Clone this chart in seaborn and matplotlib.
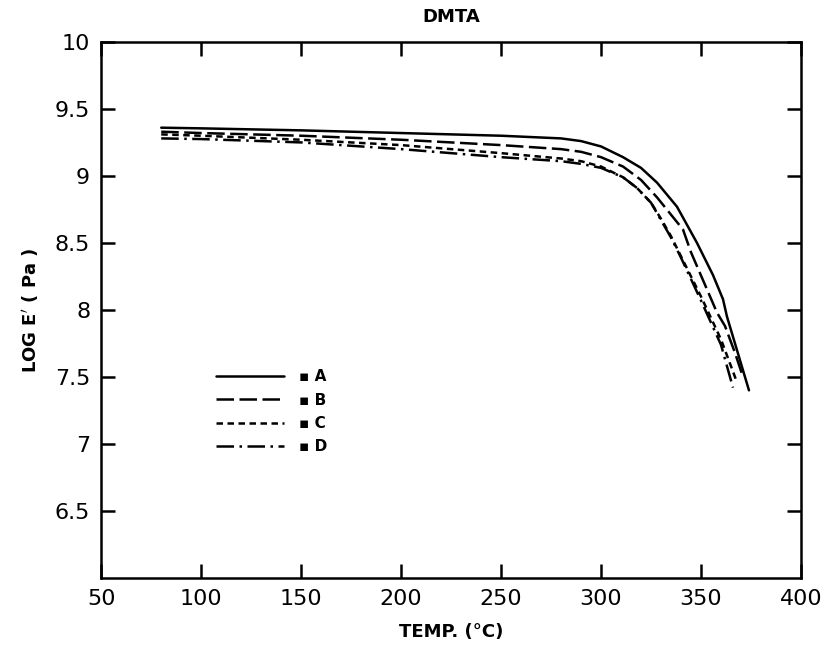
import numpy as np
import pandas as pd
import matplotlib
matplotlib.use("Agg")
import matplotlib.pyplot as plt
import seaborn as sns

# =============================
# DATA
# =============================
temp_A = [80, 100, 150, 200, 250, 280, 290, 300, 311, 320, 328, 338, 348, 356, 361, 363, 368, 374]
logE_A = [9.36, 9.355, 9.34, 9.32, 9.30, 9.28, 9.26, 9.22, 9.14, 9.06, 8.95, 8.77, 8.50, 8.26, 8.08, 7.95, 7.70, 7.40]

temp_B = [80, 100, 150, 200, 250, 280, 290, 300, 311, 320, 328, 341, 345, 358, 362, 367, 371]
logE_B = [9.33, 9.32, 9.30, 9.27, 9.23, 9.20, 9.18, 9.14, 9.07, 8.97, 8.84, 8.60, 8.43, 7.98, 7.88, 7.68, 7.50]

temp_C = [80, 100, 150, 200, 250, 280, 290, 300, 311, 318, 325, 330, 335, 340, 350, 360, 368]
logE_C = [9.31, 9.30, 9.27, 9.23, 9.17, 9.13, 9.11, 9.07, 8.99, 8.91, 8.80, 8.68, 8.55, 8.40, 8.10, 7.78, 7.46]

temp_D = [80, 100, 150, 200, 250, 280, 290, 300, 311, 318, 325, 330, 335, 340, 350, 360, 366]
logE_D = [9.28, 9.275, 9.25, 9.20, 9.14, 9.11, 9.09, 9.06, 8.99, 8.91, 8.80, 8.67, 8.54, 8.39, 8.07, 7.74, 7.42]

samples = ["A", "B", "C", "D"]
x_ticks = [50, 100, 150, 200, 250, 300, 350, 400]
y_ticks = [6.5, 7, 7.5, 8, 8.5, 9, 9.5, 10]

df = pd.concat([
    pd.DataFrame({"temp": temp_A, "logE": logE_A, "sample": "A"}),
    pd.DataFrame({"temp": temp_B, "logE": logE_B, "sample": "B"}),
    pd.DataFrame({"temp": temp_C, "logE": logE_C, "sample": "C"}),
    pd.DataFrame({"temp": temp_D, "logE": logE_D, "sample": "D"}),
], ignore_index=True)

# =============================
# STYLE
# =============================
sns.set_style("ticks", rc={
    "text.color": "black",
    "axes.labelcolor": "black",
    "axes.edgecolor": "black",
    "xtick.color": "black",
    "ytick.color": "black",
})
plt.rcParams["font.family"] = ["DejaVu Sans"]

fig = plt.figure(figsize=(8.3, 6.45), dpi=100)
ax = fig.add_axes([0.122, 0.104, 0.843, 0.831])

dashes = {
    "A": "",
    "B": (7, 2.2),
    "C": (2.6, 1.8),
    "D": (7, 2.2, 1, 2.2),
}

sns.lineplot(data=df, x="temp", y="logE", hue="sample", style="sample",
             palette={s: "black" for s in samples}, dashes=dashes,
             linewidth=1.8, sort=False, ax=ax)

ax.set_xlim(50, 400)
ax.set_ylim(6, 10)
ax.set_xticks(x_ticks)
ax.set_xticklabels([f"{t:g}" for t in x_ticks])
ax.set_yticks(y_ticks)
ax.set_yticklabels([f"{t:g}" for t in y_ticks])

ax.tick_params(direction="in", length=10, width=1.8, labelsize=16,
               top=True, right=True, pad=8)
for sp in ax.spines.values():
    sp.set_visible(True)
    sp.set_linewidth(1.8)

ax.set_xlabel("TEMP. (°C)", fontsize=13, fontweight="bold", labelpad=10)
ax.set_ylabel("LOG E$'$ ( Pa )", fontsize=13, fontweight="bold", labelpad=10)
ax.set_title("DMTA", fontsize=13, fontweight="bold", pad=14)

handles, labels = ax.get_legend_handles_labels()
leg = ax.legend(handles, ["\u25aa " + s for s in samples],
                loc="upper left", bbox_to_anchor=(0.145, 0.415),
                frameon=False, handlelength=4.4, handletextpad=1.0,
                labelspacing=0.55, prop={"size": 11, "weight": "bold"})

fig.savefig("out.png", dpi=100)
plt.close(fig)
